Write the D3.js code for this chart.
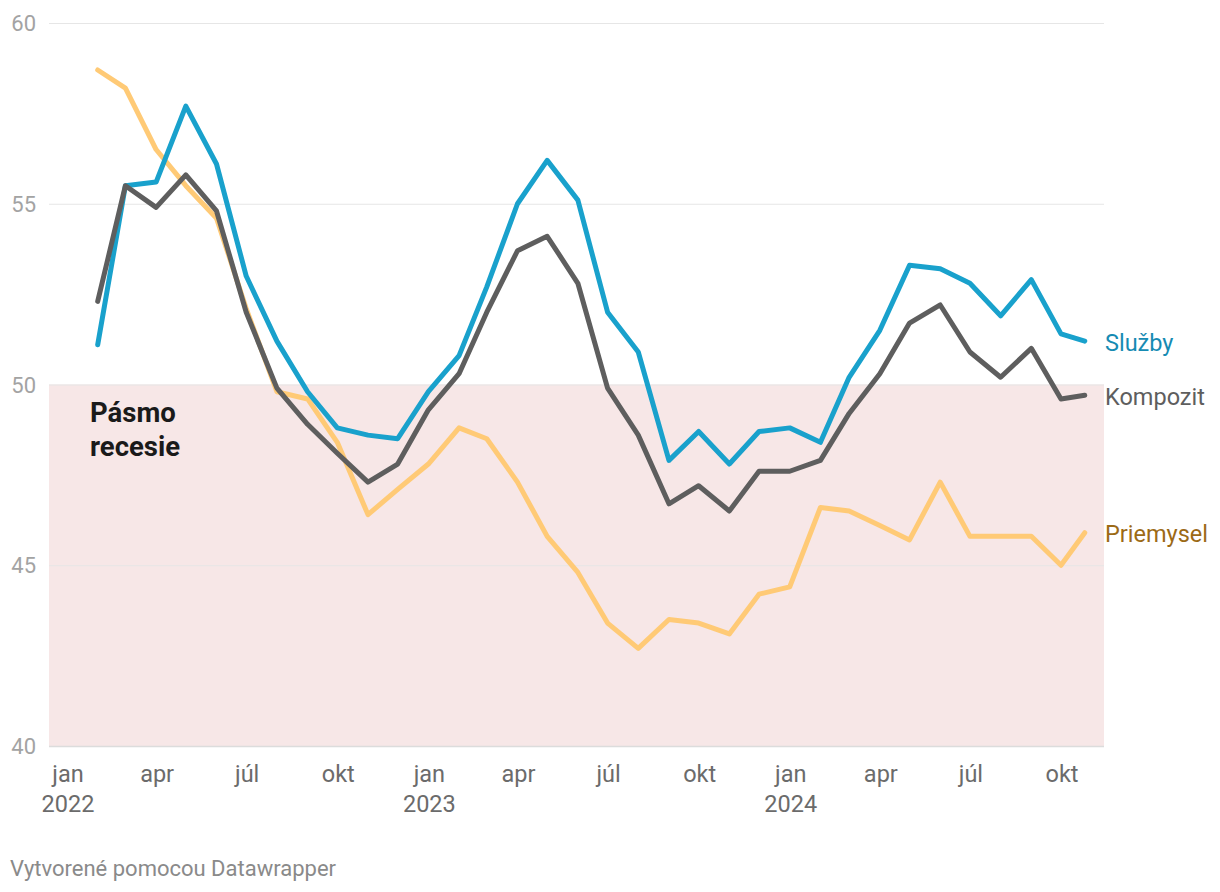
<!DOCTYPE html>
<html>
<head>
<meta charset="utf-8">
<script src="https://cdn.jsdelivr.net/npm/d3@7"></script>
<style>
  html, body { margin: 0; padding: 0; background: #fff; }
  svg { display: block; font-family: Roboto, "Noto Sans", sans-serif; }
</style>
</head>
<body>
<svg id="chart" width="1220" height="892"></svg>
<script>
// ---- Data (Eurozone PMI, monthly; last point = October flash) ----
const months = [
  "2022-01","2022-02","2022-03","2022-04","2022-05","2022-06","2022-07","2022-08","2022-09","2022-10","2022-11","2022-12",
  "2023-01","2023-02","2023-03","2023-04","2023-05","2023-06","2023-07","2023-08","2023-09","2023-10","2023-11","2023-12",
  "2024-01","2024-02","2024-03","2024-04","2024-05","2024-06","2024-07","2024-08","2024-09"
];
const flashDate = "2024-10-24";
const sluzby = [51.1,55.5,55.6,57.7,56.1,53.0,51.2,49.8,48.8,48.6,48.5,49.8,
                50.8,52.7,55.0,56.2,55.1,52.0,50.9,47.9,48.7,47.8,48.7,48.8,
                48.4,50.2,51.5,53.3,53.2,52.8,51.9,52.9,51.4, 51.2];
const kompozit = [52.3,55.5,54.9,55.8,54.8,52.0,49.9,48.9,48.1,47.3,47.8,49.3,
                  50.3,52.0,53.7,54.1,52.8,49.9,48.6,46.7,47.2,46.5,47.6,47.6,
                  47.9,49.2,50.3,51.7,52.2,50.9,50.2,51.0,49.6, 49.7];
const priemysel = [58.7,58.2,56.5,55.5,54.6,52.1,49.8,49.6,48.4,46.4,47.1,47.8,
                   48.8,48.5,47.3,45.8,44.8,43.4,42.7,43.5,43.4,43.1,44.2,44.4,
                   46.6,46.5,46.1,45.7,47.3,45.8,45.8,45.8,45.0, 45.9];
const yTicks = [40, 45, 50, 55, 60];
const xTickDates = ["2022-01-01","2022-04-01","2022-07-01","2022-10-01","2023-01-01","2023-04-01","2023-07-01","2023-10-01","2024-01-01","2024-04-01","2024-07-01","2024-10-01"];
const monthNames = ["jan","feb","mar","apr","máj","jún","júl","aug","sep","okt","nov","dec"];
const recessionBand = [40, 50];

// ---- Dates: each monthly value sits at the end of its month ----
const parseMonth = d3.timeParse("%Y-%m");
const parseDay = d3.timeParse("%Y-%m-%d");
const dates = months.map(m => d3.timeDay.offset(d3.timeMonth.offset(parseMonth(m), 1), -1));
dates.push(parseDay(flashDate));

const series = [
  { name: "Priemysel", values: priemysel, color: "#ffca76", labelColor: "#9c6a16" },
  { name: "Služby",    values: sluzby,    color: "#19a1cc", labelColor: "#168bb3" },
  { name: "Kompozit",  values: kompozit,  color: "#5e5e5e", labelColor: "#5e5e5e" }
];

// ---- Layout ----
const svg = d3.select("#chart");
const plotLeft = 49, plotRight = 1104, plotTop = 23, plotBottom = 746;

const x = d3.scaleTime()
  .domain([parseDay("2022-01-01"), parseDay("2024-10-01")])
  .range([68, 1062]);
const y = d3.scaleLinear().domain([40, 60]).range([plotBottom, plotTop]);

// recession band
svg.append("rect")
  .attr("x", plotLeft).attr("width", plotRight - plotLeft)
  .attr("y", y(recessionBand[1])).attr("height", y(recessionBand[0]) - y(recessionBand[1]))
  .attr("fill", "#f7e7e7");

// grid lines
svg.append("g").selectAll("line").data(yTicks).join("line")
  .attr("x1", plotLeft).attr("x2", plotRight)
  .attr("y1", d => y(d) + 0.5).attr("y2", d => y(d) + 0.5)
  .attr("stroke", d => d === 40 ? "#dcdcdc" : "#e6e6e6")
  .attr("stroke-width", d => d === 40 ? 1.5 : 1.2);

// y labels
svg.append("g").selectAll("text").data(yTicks).join("text")
  .attr("x", 36).attr("y", d => y(d) + 8)
  .attr("text-anchor", "end")
  .attr("font-size", 22).attr("fill", "#a3a3a3")
  .text(d => d);

// x labels
const xg = svg.append("g");
xTickDates.forEach(s => {
  const d = parseDay(s);
  const t = xg.append("text")
    .attr("x", x(d)).attr("y", 782)
    .attr("text-anchor", "middle")
    .attr("font-size", 23.5).attr("fill", "#6b6b6b");
  t.append("tspan").attr("x", x(d)).text(monthNames[d.getMonth()]);
  if (d.getMonth() === 0) {
    t.append("tspan").attr("x", x(d)).attr("dy", 30).text(d.getFullYear());
  }
});

// lines
const line = d3.line().x((d, i) => x(dates[i])).y(d => y(d));
series.forEach(s => {
  svg.append("path")
    .datum(s.values)
    .attr("d", line)
    .attr("fill", "none")
    .attr("stroke", s.color)
    .attr("stroke-width", 5)
    .attr("stroke-linejoin", "round")
    .attr("stroke-linecap", "round");
});

// end labels
series.forEach(s => {
  const last = s.values[s.values.length - 1];
  svg.append("text")
    .attr("x", 1105).attr("y", y(last) + 9.5)
    .attr("font-size", 23.5).attr("fill", s.labelColor)
    .text(s.name);
});

// annotation
const ann = svg.append("text")
  .attr("x", 90).attr("y", 422)
  .attr("font-size", 27.5).attr("font-weight", 700).attr("fill", "#1a1a1a");
ann.append("tspan").attr("x", 90).text("Pásmo");
ann.append("tspan").attr("x", 90).attr("dy", 34).text("recesie");

// footer
svg.append("text")
  .attr("x", 10).attr("y", 876)
  .attr("font-size", 22).attr("fill", "#8a8a8a")
  .text("Vytvorené pomocou Datawrapper");
</script>
</body>
</html>
